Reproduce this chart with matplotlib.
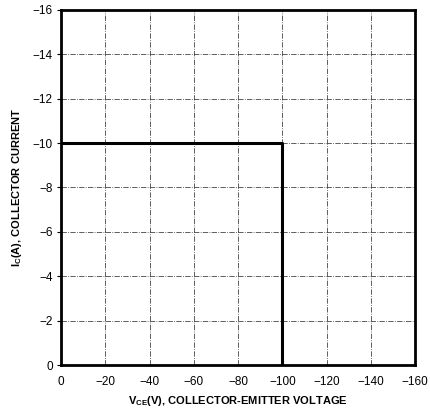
import matplotlib
matplotlib.use("Agg")
import matplotlib.pyplot as plt

plt.rcParams['font.family'] = ['Liberation Sans', 'DejaVu Sans']
plt.rcParams['mathtext.fontset'] = 'custom'
plt.rcParams['mathtext.rm'] = 'Liberation Sans'
plt.rcParams['mathtext.bf'] = 'Liberation Sans:bold'

# safe operating area boundary
vce = [0, -100, -100]
ic = [-10, -10, 0]

x_ticks = [0, -20, -40, -60, -80, -100, -120, -140, -160]
y_ticks = [0, -2, -4, -6, -8, -10, -12, -14, -16]

fig = plt.figure(figsize=(4.31, 4.12), dpi=100)
ax = fig.add_axes([0.1415, 0.114, 0.822, 0.862])

ax.plot(vce, ic, color='black', linewidth=2.2, solid_capstyle='butt')

ax.set_xlim(0, -160)
ax.set_ylim(0, -16)
ax.set_xticks(x_ticks)
ax.set_yticks(y_ticks)
ax.set_xticklabels(['0' if v == 0 else '\u2212%d' % -v for v in x_ticks])
ax.set_yticklabels(['0' if v == 0 else '\u2212%d' % -v for v in y_ticks])
ax.tick_params(labelsize=8.5, length=3, width=0.8)
ax.tick_params(axis='x', pad=8, length=0)
ax.tick_params(axis='y', pad=3)
ax.grid(True, color='#444444', linewidth=0.6, linestyle='-.')

for s in ax.spines.values():
    s.set_linewidth(2.0)

ax.set_xlabel(r'V$_{\mathbf{CE}}$(V), COLLECTOR-EMITTER VOLTAGE',
              fontsize=8, fontweight='bold', labelpad=4)
ax.set_ylabel(r'I$_{\mathbf{C}}$(A), COLLECTOR CURRENT',
              fontsize=8, fontweight='bold', labelpad=6)

fig.savefig('out.png', dpi=100)
